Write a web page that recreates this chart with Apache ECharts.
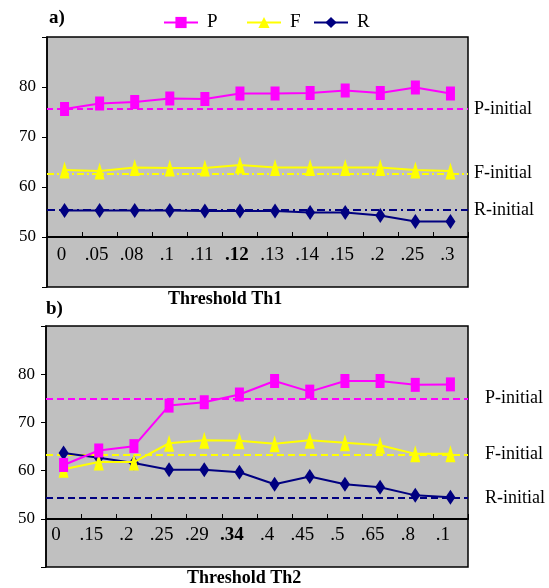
<!DOCTYPE html>
<html><head><meta charset="utf-8">
<script src="https://cdn.jsdelivr.net/npm/echarts@6/dist/echarts.min.js"></script>
<style>html,body{margin:0;padding:0;background:#fff}#c{width:549px;height:588px}</style>
</head><body><div id="c"></div>
<script>
// ---- data ----
const catsA = ['0','.05','.08','.1','.11','.12','.13','.14','.15','.2','.25','.3'];
const catsB = ['0','.15','.2','.25','.29','.34','.4','.45','.5','.65','.8','.1'];
const boldA = '.12';
const boldB = '.34';
const pA = [75.6,76.7,77.0,77.7,77.6,78.7,78.7,78.8,79.3,78.8,79.9,78.7];
const fA = [63.4,63.2,63.9,63.8,63.8,64.4,63.9,63.9,63.9,63.9,63.4,63.2];
const rA = [55.3,55.3,55.3,55.3,55.2,55.2,55.2,54.9,54.9,54.3,53.1,53.1];
const initA = [75.6, 62.75, 55.4];   // P, F, R initial
const pB = [61.2,64.2,65.1,73.5,74.2,75.8,78.6,76.4,78.6,78.6,77.8,77.9];
const fB = [60.3,61.8,61.8,65.7,66.3,66.2,65.6,66.3,65.8,65.3,63.5,63.5];
const rB = [63.7,62.7,61.6,60.2,60.2,59.7,57.2,58.8,57.2,56.6,54.9,54.5];
const initB = [75.0, 63.4, 54.4];
const yTickLabels = [50,60,70,80];
const names = ['P','F','R'];
const initLabels = ['P-initial','F-initial','R-initial'];

// ---- style ----
const FONT = 'Liberation Serif';
const colors = ['#ff00ff','#ffff00','#000080'];
const symbols = ['rect','triangle','diamond'];
const symSizes = [[9,14],[10,17],[10,15]];

const chart = echarts.init(document.getElementById('c'), null, {renderer:'canvas'});

function bgYAxis(gi){
  return {gridIndex:gi, type:'value', min:40, max:90, interval:10,
    axisLine:{show:true, lineStyle:{color:'#000', width:1.5}},
    axisTick:{show:true, inside:false, length:5, lineStyle:{color:'#000', width:1}},
    splitLine:{show:false},
    axisLabel:{margin:11, color:'#000', fontFamily:FONT, fontSize:17,
      formatter: v => yTickLabels.indexOf(v) >= 0 ? String(v) : ''}};
}
function dataXAxis(gi, cats, bold, margin, padR){
  return {gridIndex:gi, type:'category', data:cats, boundaryGap:true,
    axisLine:{show:true, lineStyle:{color:'#000', width:2}},
    axisTick:{show:true, inside:true, length:5, alignWithLabel:false, lineStyle:{color:'#000', width:1}},
    splitLine:{show:false},
    axisLabel:{interval:0, margin:margin, color:'#000', fontFamily:FONT, fontSize:19,
      padding:[0,padR,0,0],
      formatter: v => v === bold ? '{b|' + v + '}' : v,
      rich:{b:{fontWeight:'bold', fontFamily:FONT, fontSize:19, color:'#000'}}}};
}

const seriesList = [];
function addPanel(xi, vals, inits, dashTypes, labelDist, labelShift){
  vals.forEach((d, i) => {
    const up = labelShift[i];
    seriesList.push({
      name:names[i], type:'line', xAxisIndex:xi, yAxisIndex:xi, data:d,
      symbol:symbols[i], symbolSize:symSizes[i],
      lineStyle:{color:colors[i], width:2}, itemStyle:{color:colors[i]},
      z: 3 + (2 - i),
      markLine:{silent:true, symbol:'none', z:2,
        lineStyle:{color:colors[i], type:dashTypes[i], width:2},
        label:{show:true, position:'end', distance:labelDist, formatter:initLabels[i],
          color:'#000', fontFamily:FONT, fontSize:18,
          padding: up >= 0 ? [0,0,2*up,0] : [-2*up,0,0,0]},
        data:[{yAxis:inits[i]}]}
    });
  });
}
addPanel(1, [pA,fA,rA], initA, [[6,4],[7,3,2,3],[8,4,2,4]], 6, [2,5,6]);
addPanel(3, [pB,fB,rB], initB, [[7,4],[7,4],[7,4]], 17, [4,-1,4]);

function legendFor(n, left){
  return {data:[n], left:left, top:13, padding:0, itemWidth:34, itemHeight:14, selectedMode:false,
    textStyle:{fontFamily:FONT, fontSize:19, color:'#000', padding:[0,0,0,4]}};
}

chart.setOption({
  animation:false,
  backgroundColor:'#fff',
  title:[
    {text:'a)', left:49, top:9, padding:0, textStyle:{fontFamily:FONT, fontWeight:'bold', fontSize:19, color:'#000'}},
    {text:'b)', left:46, top:300, padding:0, textStyle:{fontFamily:FONT, fontWeight:'bold', fontSize:19, color:'#000'}},
    {text:'Threshold Th1', left:168, top:290, padding:0, textStyle:{fontFamily:FONT, fontWeight:'bold', fontSize:18, color:'#000'}},
    {text:'Threshold Th2', left:187, top:569, padding:0, textStyle:{fontFamily:FONT, fontWeight:'bold', fontSize:18, color:'#000'}}
  ],
  legend:[legendFor('P',163), legendFor('F',246), legendFor('R',313)],
  grid:[
    {left:47, top:37, width:421, height:250, show:true, backgroundColor:'#c0c0c0', borderColor:'#000', borderWidth:1.5},
    {left:47, top:37, width:421, height:200},
    {left:46, top:326, width:422, height:241, show:true, backgroundColor:'#c0c0c0', borderColor:'#000', borderWidth:1.5},
    {left:46, top:326, width:422, height:193}
  ],
  xAxis:[
    {gridIndex:0, type:'value', min:0, max:1, show:false},
    dataXAxis(1, catsA, boldA, 9, 6),
    {gridIndex:2, type:'value', min:0, max:1, show:false},
    dataXAxis(3, catsB, boldB, 7, 15)
  ],
  yAxis:[
    bgYAxis(0),
    {gridIndex:1, type:'value', min:50, max:90, show:false},
    bgYAxis(2),
    {gridIndex:3, type:'value', min:50, max:90, show:false}
  ],
  series:seriesList
});
</script></body></html>
